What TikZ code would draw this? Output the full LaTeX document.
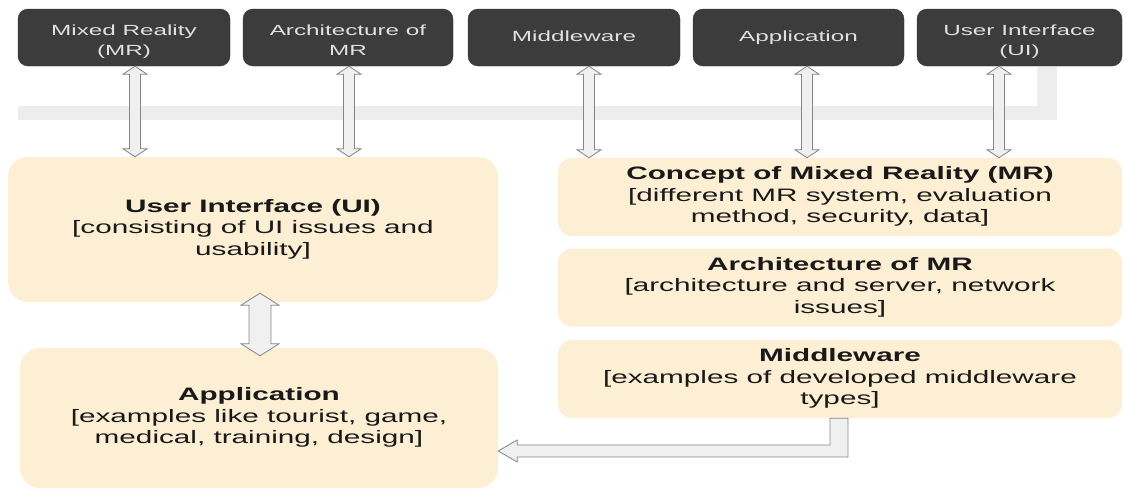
\documentclass[tikz,border=0pt]{standalone}
\usepackage{fontspec}
\setmainfont{Liberation Sans}
\usepackage{graphicx}
\usepackage{tikz}
\usetikzlibrary{calc}
\definecolor{topgray}{HTML}{3C3C3C}
\definecolor{toptext}{HTML}{E0E0E0}
\definecolor{cream}{HTML}{FCEFD4}
\definecolor{bandgray}{HTML}{EDEDED}
\definecolor{arrowline}{HTML}{858585}
\definecolor{arrowfill}{HTML}{F0F0F0}
\newcommand\widetxt[1]{\scalebox{1.65}[1]{\begin{tabular}{@{}c@{}}#1\end{tabular}}}
\def\headw{12pt}
\def\shaftw{5.5pt}
\def\headl{8pt}
\newcommand\twoway[3]{%
  \path[fatarrow] let \p1=(#2), \p2=(#3), \p3=(#1,0) in
    (\x3,\y1) -- (\x3+\headw,\y1-\headl) -- (\x3+\shaftw,\y1-\headl)
    -- (\x3+\shaftw,\y2+\headl) -- (\x3+\headw,\y2+\headl) -- (\x3,\y2)
    -- (\x3-\headw,\y2+\headl) -- (\x3-\shaftw,\y2+\headl)
    -- (\x3-\shaftw,\y1-\headl) -- (\x3-\headw,\y1-\headl) -- cycle;}
\tikzset{
  topbox/.style={draw=black!80, fill=topgray, rounded corners=10pt,
    minimum height=57pt, inner sep=0pt, text=toptext,
    font=\fontsize{14.7}{19.5}\selectfont},
  droptext/.style={text height=31pt, text depth=16pt},
  lowbox/.style={fill=cream, rounded corners=20pt, inner sep=0pt,
    text=black!90, font=\fontsize{18}{21.5}\selectfont},
  sidebox/.style={lowbox, rounded corners=14pt, minimum width=564pt,
    minimum height=78pt},
  fatarrow/.style={draw=arrowline, fill=arrowfill, line width=0.8pt}
}

\begin{document}
\begin{tikzpicture}[x=1pt,y=-1pt]
    \useasboundingbox (0,0) rectangle (1124,493);
    \fill[bandgray] (18,106) rectangle (1057,120);
    \fill[bandgray] (1037,67) rectangle (1057,120);

    \node[topbox, droptext, minimum width=212pt] (mrT) at (124,37.5) {\widetxt{Mixed Reality\\(MR)}};
    \node[topbox, droptext, minimum width=210pt] (archT) at (348,37.5) {\widetxt{Architecture of\\MR}};
    \node[topbox, minimum width=212pt] (midT) at (574,37.5) {\widetxt{Middleware}};
    \node[topbox, minimum width=211pt] (appT) at (798.5,37.5) {\widetxt{Application}};
    \node[topbox, droptext, minimum width=205pt] (uiT) at (1019.5,37.5) {\widetxt{User Interface\\(UI)}};

    \node[lowbox, minimum width=490pt, minimum height=145pt] (uiB) at (253,229.5)
        {\widetxt{\textbf{User Interface (UI)}\\{[}consisting of UI issues and\\usability]}};
    \node[lowbox, minimum width=478pt, minimum height=140pt] (appB) at (259,418)
        {\widetxt{\textbf{Application}\\{[}examples like tourist, game,\\medical, training, design]}};
    \node[sidebox] (conB) at (840,197)
        {\widetxt{\textbf{Concept of Mixed Reality (MR)}\\{[}different MR system, evaluation\\method, security, data]}};
    \node[sidebox] (archB) at (840,287.5)
        {\widetxt{\textbf{Architecture of MR}\\{[}architecture and server, network\\issues]}};
    \node[sidebox] (midB) at (840,379)
        {\widetxt{\textbf{Middleware}\\{[}examples of developed middleware\\types]}};

    \twoway{135}{mrT.south}{uiB.north}
    \twoway{349}{archT.south}{uiB.north}
    \twoway{589}{midT.south}{conB.north}
    \twoway{807}{appT.south}{conB.north}
    \twoway{999}{uiT.south}{conB.north}
    {\def\headw{19pt}\def\shaftw{11pt}\def\headl{12pt}
     \twoway{260}{[yshift=9pt]uiB.south}{[yshift=-8pt]appB.north}}

    \coordinate (bend) at (839,451);
    \path[fatarrow] let \p1=(midB.south), \p2=(bend), \p3=(appB.east) in
        (\x2-9pt,\y1) -- (\x2-9pt,\y2+6pt) -- (\x3+19pt,\y2+6pt)
        -- (\x3+19pt,\y2+11pt) -- (\x3,\y2) -- (\x3+19pt,\y2-11pt)
        -- (\x3+19pt,\y2-6pt) -- (\x2+9pt,\y2-6pt) -- (\x2+9pt,\y1) -- cycle;
\end{tikzpicture}
\end{document}
